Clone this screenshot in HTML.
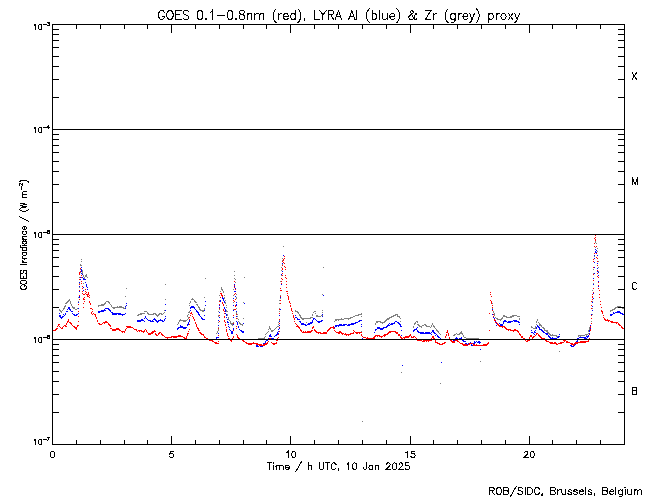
<!DOCTYPE html><html><head><meta charset="utf-8"><style>html,body{margin:0;padding:0;background:#fff;width:650px;height:500px;overflow:hidden}svg{display:block}text{font-family:"Liberation Sans",sans-serif}</style></head><body>
<svg width="650" height="500" viewBox="0 0 650 500" shape-rendering="crispEdges">
<path fill="#808080" d="M269 326h1v1h-1zM277 326h2v1h-2zM413 326h1v1h-1zM419 326h3v1h-3zM426 326h4v1h-4zM431 326h1v1h-1zM433 326h2v1h-2zM531 326h1v1h-1zM535 326h1v1h-1zM541 326h1v1h-1zM590 326h1v1h-1zM180 319h1v1h-1zM187 319h1v1h-1zM228 319h1v1h-1zM238 319h1v1h-1zM302 319h2v1h-2zM335 319h9v1h-9zM348 319h1v1h-1zM386 319h3v1h-3zM497 319h5v1h-5zM519 319h1v1h-1zM537 319h1v1h-1zM178 322h1v1h-1zM218 322h1v1h-1zM230 322h1v1h-1zM233 322h1v1h-1zM239 322h1v1h-1zM278 322h1v1h-1zM306 322h1v1h-1zM376 322h2v1h-2zM380 322h5v1h-5zM415 322h1v1h-1zM417 322h1v1h-1zM536 322h1v1h-1zM538 322h1v1h-1zM217 331h1v1h-1zM268 331h1v1h-1zM271 331h2v1h-2zM361 331h1v1h-1zM437 331h2v1h-2zM461 331h1v1h-1zM546 331h2v1h-2zM588 331h1v1h-1zM218 327h1v1h-1zM269 327h1v1h-1zM276 327h1v1h-1zM413 327h1v1h-1zM421 327h1v1h-1zM430 327h1v1h-1zM434 327h1v1h-1zM531 327h2v1h-2zM535 327h1v1h-1zM542 327h2v1h-2zM589 327h1v1h-1zM236 294h1v1h-1zM322 294h1v1h-1zM126 288h1v1h-1zM221 288h1v1h-1zM235 288h1v1h-1zM280 288h1v1h-1zM138 314h4v1h-4zM148 314h6v1h-6zM155 314h2v1h-2zM158 314h2v1h-2zM161 314h2v1h-2zM188 314h1v1h-1zM227 314h1v1h-1zM237 314h1v1h-1zM299 314h1v1h-1zM312 314h1v1h-1zM358 314h4v1h-4zM395 314h3v1h-3zM494 314h1v1h-1zM592 314h1v1h-1zM61 312h1v1h-1zM147 312h1v1h-1zM164 312h1v1h-1zM188 312h2v1h-2zM236 312h1v1h-1zM297 312h2v1h-2zM313 312h1v1h-1zM322 312h1v1h-1zM493 312h1v1h-1zM137 315h2v1h-2zM156 315h3v1h-3zM187 315h1v1h-1zM218 315h1v1h-1zM227 315h1v1h-1zM233 315h1v1h-1zM279 315h1v1h-1zM299 315h2v1h-2zM312 315h1v1h-1zM316 315h2v1h-2zM321 315h2v1h-2zM355 315h4v1h-4zM393 315h3v1h-3zM397 315h1v1h-1zM494 315h1v1h-1zM503 315h2v1h-2zM512 315h5v1h-5zM597 251h1v1h-1zM63 308h2v1h-2zM73 308h2v1h-2zM77 308h2v1h-2zM113 308h2v1h-2zM123 308h3v1h-3zM199 308h1v1h-1zM204 308h1v1h-1zM236 308h1v1h-1zM279 308h1v1h-1zM492 308h1v1h-1zM592 308h1v1h-1zM614 308h2v1h-2zM622 308h2v1h-2zM281 267h1v1h-1zM323 267h1v1h-1zM594 267h1v1h-1zM598 267h1v1h-1zM178 323h1v1h-1zM230 323h3v1h-3zM239 323h2v1h-2zM243 323h1v1h-1zM375 323h1v1h-1zM382 323h1v1h-1zM414 323h2v1h-2zM432 323h1v1h-1zM539 323h1v1h-1zM591 323h1v1h-1zM60 311h2v1h-2zM144 311h3v1h-3zM189 311h1v1h-1zM202 311h2v1h-2zM218 311h1v1h-1zM226 311h2v1h-2zM279 311h1v1h-1zM295 311h3v1h-3zM314 311h2v1h-2zM493 311h1v1h-1zM610 311h1v1h-1zM84 278h1v1h-1zM205 278h1v1h-1zM234 278h1v1h-1zM593 278h1v1h-1zM188 317h1v1h-1zM228 317h1v1h-1zM300 317h2v1h-2zM310 317h3v1h-3zM350 317h3v1h-3zM389 317h3v1h-3zM399 317h1v1h-1zM495 317h1v1h-1zM502 317h1v1h-1zM506 317h6v1h-6zM218 330h1v1h-1zM271 330h3v1h-3zM401 330h1v1h-1zM436 330h2v1h-2zM544 330h4v1h-4zM588 330h1v1h-1zM219 295h1v1h-1zM224 295h1v1h-1zM233 295h1v1h-1zM280 295h1v1h-1zM453 335h2v1h-2zM463 335h1v1h-1zM550 335h7v1h-7zM578 335h7v1h-7zM586 335h1v1h-1zM65 303h2v1h-2zM70 303h1v1h-1zM104 303h2v1h-2zM109 303h1v1h-1zM189 303h1v1h-1zM225 303h1v1h-1zM279 303h1v1h-1zM492 303h1v1h-1zM258 338h7v1h-7zM466 338h13v1h-13zM59 309h1v1h-1zM63 309h1v1h-1zM75 309h2v1h-2zM199 309h2v1h-2zM204 309h1v1h-1zM219 309h1v1h-1zM233 309h1v1h-1zM612 309h3v1h-3zM64 307h1v1h-1zM72 307h3v1h-3zM112 307h12v1h-12zM125 307h1v1h-1zM198 307h2v1h-2zM226 307h1v1h-1zM615 307h3v1h-3zM620 307h3v1h-3zM223 292h1v1h-1zM67 301h2v1h-2zM70 301h1v1h-1zM78 301h1v1h-1zM106 301h3v1h-3zM190 301h1v1h-1zM194 301h2v1h-2zM592 301h1v1h-1zM140 313h5v1h-5zM147 313h2v1h-2zM153 313h3v1h-3zM159 313h3v1h-3zM163 313h1v1h-1zM236 313h1v1h-1zM298 313h1v1h-1zM315 313h1v1h-1zM361 313h1v1h-1zM494 313h1v1h-1zM68 300h2v1h-2zM194 300h1v1h-1zM219 300h1v1h-1zM225 300h1v1h-1zM279 300h1v1h-1zM78 297h1v1h-1zM204 297h1v1h-1zM224 297h1v1h-1zM236 297h1v1h-1zM592 297h1v1h-1zM66 302h2v1h-2zM70 302h1v1h-1zM105 302h1v1h-1zM108 302h2v1h-2zM190 302h1v1h-1zM195 302h2v1h-2zM225 302h1v1h-1zM233 302h1v1h-1zM243 302h1v1h-1zM64 306h2v1h-2zM72 306h1v1h-1zM98 306h1v1h-1zM111 306h1v1h-1zM117 306h1v1h-1zM119 306h3v1h-3zM198 306h1v1h-1zM617 306h4v1h-4zM264 337h1v1h-1zM464 337h2v1h-2zM283 255h1v1h-1zM597 255h1v1h-1zM157 316h1v1h-1zM187 316h1v1h-1zM218 316h1v1h-1zM237 316h1v1h-1zM300 316h1v1h-1zM316 316h5v1h-5zM353 316h2v1h-2zM361 316h1v1h-1zM391 316h3v1h-3zM397 316h3v1h-3zM503 316h4v1h-4zM510 316h4v1h-4zM517 316h3v1h-3zM269 328h2v1h-2zM275 328h1v1h-1zM435 328h1v1h-1zM533 328h3v1h-3zM543 328h2v1h-2zM589 328h1v1h-1zM59 310h2v1h-2zM62 310h1v1h-1zM164 310h1v1h-1zM200 310h4v1h-4zM226 310h1v1h-1zM295 310h1v1h-1zM322 310h1v1h-1zM610 310h3v1h-3zM265 334h1v1h-1zM440 334h1v1h-1zM454 334h2v1h-2zM457 334h3v1h-3zM462 334h1v1h-1zM549 334h2v1h-2zM552 334h1v1h-1zM585 334h3v1h-3zM440 383h1v1h-1zM232 325h1v1h-1zM242 325h1v1h-1zM418 325h2v1h-2zM422 325h2v1h-2zM425 325h2v1h-2zM431 325h1v1h-1zM433 325h1v1h-1zM539 325h3v1h-3zM590 325h1v1h-1zM79 279h1v1h-1zM84 279h1v1h-1zM235 279h1v1h-1zM83 276h1v1h-1zM85 276h2v1h-2zM179 321h1v1h-1zM183 321h3v1h-3zM230 321h1v1h-1zM238 321h1v1h-1zM334 321h1v1h-1zM376 321h5v1h-5zM384 321h2v1h-2zM400 321h1v1h-1zM416 321h2v1h-2zM536 321h1v1h-1zM591 321h1v1h-1zM479 339h2v1h-2zM179 320h8v1h-8zM229 320h1v1h-1zM279 320h1v1h-1zM335 320h2v1h-2zM338 320h1v1h-1zM385 320h2v1h-2zM500 320h1v1h-1zM537 320h1v1h-1zM218 329h1v1h-1zM268 329h1v1h-1zM270 329h1v1h-1zM274 329h1v1h-1zM436 329h1v1h-1zM544 329h1v1h-1zM589 329h1v1h-1zM222 290h1v1h-1zM592 290h1v1h-1zM188 318h1v1h-1zM228 318h1v1h-1zM237 318h1v1h-1zM243 318h1v1h-1zM301 318h10v1h-10zM341 318h1v1h-1zM344 318h7v1h-7zM387 318h3v1h-3zM400 318h1v1h-1zM496 318h2v1h-2zM501 318h2v1h-2zM519 318h1v1h-1zM79 291h1v1h-1zM220 291h1v1h-1zM223 291h1v1h-1zM235 291h1v1h-1zM79 283h1v1h-1zM83 283h1v1h-1zM593 283h1v1h-1zM82 270h1v1h-1zM281 270h1v1h-1zM69 299h1v1h-1zM165 299h1v1h-1zM191 299h3v1h-3zM216 333h1v1h-1zM266 333h1v1h-1zM439 333h1v1h-1zM456 333h1v1h-1zM459 333h4v1h-4zM548 333h2v1h-2zM588 333h1v1h-1zM595 252h1v1h-1zM217 332h1v1h-1zM267 332h1v1h-1zM438 332h1v1h-1zM460 332h2v1h-2zM547 332h2v1h-2zM83 275h1v1h-1zM85 275h2v1h-2zM234 275h1v1h-1zM281 275h1v1h-1zM221 289h2v1h-2zM233 289h1v1h-1zM65 305h1v1h-1zM71 305h1v1h-1zM98 305h6v1h-6zM111 305h1v1h-1zM189 305h1v1h-1zM197 305h1v1h-1zM219 305h1v1h-1zM226 305h1v1h-1zM595 247h1v1h-1zM177 324h1v1h-1zM231 324h2v1h-2zM240 324h3v1h-3zM278 324h1v1h-1zM375 324h1v1h-1zM414 324h1v1h-1zM417 324h2v1h-2zM424 324h2v1h-2zM432 324h1v1h-1zM536 324h1v1h-1zM539 324h2v1h-2zM71 304h1v1h-1zM101 304h4v1h-4zM110 304h1v1h-1zM196 304h2v1h-2zM236 304h1v1h-1zM595 242h1v1h-1zM362 421h1v1h-1zM192 298h1v1h-1zM224 298h1v1h-1zM236 298h1v1h-1zM280 298h1v1h-1zM81 261h1v1h-1zM598 261h1v1h-1zM401 372h1v1h-1zM265 336h1v1h-1zM463 336h1v1h-1zM556 336h3v1h-3zM578 336h1v1h-1zM580 336h1v1h-1zM595 241h1v1h-1zM594 262h1v1h-1zM125 296h1v1h-1zM592 296h1v1h-1zM79 287h1v1h-1zM221 287h1v1h-1zM80 265h2v1h-2zM79 277h1v1h-1zM84 277h1v1h-1zM87 277h1v1h-1zM244 277h1v1h-1zM598 277h1v1h-1zM80 269h1v1h-1zM593 269h1v1h-1zM282 260h1v1h-1zM480 361h1v1h-1zM80 264h1v1h-1zM282 264h1v1h-1zM596 243h1v1h-1zM235 282h1v1h-1zM280 281h1v1h-1zM82 273h1v1h-1zM593 273h1v1h-1zM597 248h1v1h-1zM165 284h1v1h-1zM559 351h1v1h-1zM234 285h1v1h-1zM283 246h1v1h-1zM596 246h1v1h-1zM80 272h1v1h-1zM82 272h1v1h-1zM80 271h1v1h-1zM82 271h1v1h-1zM234 271h1v1h-1zM598 271h1v1h-1zM86 274h1v1h-1zM594 256h1v1h-1zM220 293h1v1h-1zM81 259h1v1h-1zM282 258h1v1h-1z"/>
<path fill="#0000ff" d="M141 319h2v1h-2zM147 319h1v1h-1zM153 319h3v1h-3zM160 319h1v1h-1zM164 319h1v1h-1zM202 319h3v1h-3zM227 319h1v1h-1zM297 319h3v1h-3zM313 319h1v1h-1zM315 319h1v1h-1zM494 319h1v1h-1zM269 335h2v1h-2zM275 335h2v1h-2zM401 335h1v1h-1zM435 335h1v1h-1zM437 335h1v1h-1zM548 335h1v1h-1zM588 335h1v1h-1zM266 340h2v1h-2zM453 340h2v1h-2zM462 340h2v1h-2zM577 340h1v1h-1zM187 324h2v1h-2zM228 324h1v1h-1zM233 324h1v1h-1zM237 324h1v1h-1zM301 324h5v1h-5zM307 324h3v1h-3zM339 324h3v1h-3zM343 324h4v1h-4zM348 324h6v1h-6zM361 324h1v1h-1zM388 324h1v1h-1zM390 324h3v1h-3zM399 324h2v1h-2zM497 324h2v1h-2zM500 324h3v1h-3zM519 324h1v1h-1zM596 250h1v1h-1zM178 327h9v1h-9zM229 327h1v1h-1zM238 327h1v1h-1zM334 327h1v1h-1zM377 327h3v1h-3zM383 327h4v1h-4zM417 327h1v1h-1zM536 327h1v1h-1zM538 327h2v1h-2zM590 327h1v1h-1zM269 336h3v1h-3zM274 336h1v1h-1zM437 336h2v1h-2zM548 336h2v1h-2zM558 336h2v1h-2zM586 336h3v1h-3zM216 337h3v1h-3zM438 337h2v1h-2zM456 337h1v1h-1zM461 337h1v1h-1zM549 337h2v1h-2zM552 337h1v1h-1zM557 337h2v1h-2zM579 337h7v1h-7zM587 337h1v1h-1zM66 311h2v1h-2zM71 311h2v1h-2zM98 311h6v1h-6zM110 311h1v1h-1zM196 311h2v1h-2zM225 311h1v1h-1zM236 311h1v1h-1zM617 311h3v1h-3zM70 310h1v1h-1zM101 310h5v1h-5zM109 310h2v1h-2zM165 310h1v1h-1zM190 310h1v1h-1zM196 310h1v1h-1zM204 310h1v1h-1zM225 310h1v1h-1zM233 310h1v1h-1zM592 310h1v1h-1zM79 297h1v1h-1zM220 297h1v1h-1zM222 297h1v1h-1zM280 297h1v1h-1zM263 343h2v1h-2zM465 343h2v1h-2zM468 343h4v1h-4zM473 343h2v1h-2zM479 343h1v1h-1zM82 274h1v1h-1zM281 274h1v1h-1zM59 313h1v1h-1zM65 313h1v1h-1zM72 313h1v1h-1zM78 313h1v1h-1zM112 313h9v1h-9zM125 313h1v1h-1zM190 313h1v1h-1zM198 313h1v1h-1zM225 313h1v1h-1zM613 313h2v1h-2zM620 313h3v1h-3zM177 328h2v1h-2zM183 328h3v1h-3zM218 328h1v1h-1zM233 328h1v1h-1zM279 328h1v1h-1zM377 328h7v1h-7zM416 328h1v1h-1zM536 328h1v1h-1zM539 328h1v1h-1zM590 328h1v1h-1zM216 338h1v1h-1zM268 338h2v1h-2zM271 338h3v1h-3zM362 338h1v1h-1zM440 338h1v1h-1zM455 338h3v1h-3zM459 338h3v1h-3zM550 338h7v1h-7zM577 338h2v1h-2zM584 338h3v1h-3zM157 322h1v1h-1zM188 322h1v1h-1zM227 322h2v1h-2zM237 322h1v1h-1zM300 322h1v1h-1zM310 322h3v1h-3zM318 322h2v1h-2zM355 322h3v1h-3zM394 322h1v1h-1zM397 322h2v1h-2zM503 322h1v1h-1zM507 322h4v1h-4zM518 322h2v1h-2zM480 349h1v1h-1zM63 314h1v1h-1zM65 314h1v1h-1zM73 314h2v1h-2zM76 314h2v1h-2zM112 314h5v1h-5zM118 314h7v1h-7zM198 314h2v1h-2zM226 314h1v1h-1zM322 314h1v1h-1zM492 314h1v1h-1zM591 314h1v1h-1zM610 314h3v1h-3zM622 314h2v1h-2zM137 320h7v1h-7zM148 320h3v1h-3zM152 320h1v1h-1zM155 320h2v1h-2zM158 320h5v1h-5zM164 320h1v1h-1zM189 320h1v1h-1zM218 320h1v1h-1zM312 320h1v1h-1zM316 320h1v1h-1zM321 320h2v1h-2zM359 320h3v1h-3zM494 320h2v1h-2zM504 320h2v1h-2zM513 320h4v1h-4zM218 333h1v1h-1zM231 333h2v1h-2zM277 333h2v1h-2zM420 333h11v1h-11zM434 333h2v1h-2zM533 333h1v1h-1zM545 333h3v1h-3zM589 333h1v1h-1zM86 284h1v1h-1zM234 284h1v1h-1zM281 284h1v1h-1zM593 284h1v1h-1zM267 339h1v1h-1zM272 339h1v1h-1zM452 339h1v1h-1zM455 339h1v1h-1zM457 339h2v1h-2zM460 339h1v1h-1zM462 339h1v1h-1zM59 315h2v1h-2zM64 315h1v1h-1zM74 315h3v1h-3zM122 315h1v1h-1zM199 315h1v1h-1zM204 315h1v1h-1zM226 315h1v1h-1zM279 315h1v1h-1zM295 315h1v1h-1zM610 315h2v1h-2zM180 325h1v1h-1zM187 325h1v1h-1zM218 325h1v1h-1zM279 325h1v1h-1zM305 325h2v1h-2zM335 325h10v1h-10zM347 325h3v1h-3zM387 325h3v1h-3zM400 325h1v1h-1zM496 325h1v1h-1zM498 325h1v1h-1zM500 325h3v1h-3zM537 325h1v1h-1zM590 325h1v1h-1zM270 334h1v1h-1zM276 334h2v1h-2zM431 334h1v1h-1zM436 334h1v1h-1zM534 334h1v1h-1zM546 334h2v1h-2zM559 334h1v1h-1zM180 326h3v1h-3zM228 326h1v1h-1zM238 326h1v1h-1zM335 326h2v1h-2zM338 326h1v1h-1zM361 326h1v1h-1zM386 326h2v1h-2zM400 326h2v1h-2zM537 326h2v1h-2zM590 326h1v1h-1zM441 362h1v1h-1zM177 329h1v1h-1zM229 329h1v1h-1zM233 329h1v1h-1zM239 329h1v1h-1zM278 329h1v1h-1zM375 329h2v1h-2zM380 329h3v1h-3zM414 329h3v1h-3zM539 329h3v1h-3zM256 346h3v1h-3zM260 346h3v1h-3zM571 346h3v1h-3zM283 255h1v1h-1zM594 255h1v1h-1zM597 255h1v1h-1zM67 309h1v1h-1zM69 309h2v1h-2zM104 309h1v1h-1zM108 309h2v1h-2zM195 309h1v1h-1zM225 309h1v1h-1zM280 309h1v1h-1zM492 309h1v1h-1zM83 290h1v1h-1zM280 290h1v1h-1zM256 345h2v1h-2zM259 345h1v1h-1zM261 345h3v1h-3zM471 345h2v1h-2zM570 345h2v1h-2zM573 345h2v1h-2zM60 317h3v1h-3zM145 317h1v1h-1zM189 317h1v1h-1zM201 317h1v1h-1zM219 317h1v1h-1zM226 317h1v1h-1zM233 317h1v1h-1zM295 317h2v1h-2zM493 317h1v1h-1zM265 341h1v1h-1zM452 341h1v1h-1zM463 341h3v1h-3zM474 341h1v1h-1zM476 341h1v1h-1zM478 341h2v1h-2zM576 341h2v1h-2zM188 323h1v1h-1zM237 323h1v1h-1zM243 323h1v1h-1zM301 323h3v1h-3zM308 323h4v1h-4zM351 323h5v1h-5zM389 323h1v1h-1zM391 323h4v1h-4zM398 323h2v1h-2zM496 323h1v1h-1zM499 323h1v1h-1zM503 323h1v1h-1zM591 323h1v1h-1zM137 321h4v1h-4zM144 321h1v1h-1zM150 321h4v1h-4zM156 321h3v1h-3zM162 321h2v1h-2zM189 321h1v1h-1zM227 321h1v1h-1zM236 321h1v1h-1zM279 321h1v1h-1zM299 321h2v1h-2zM312 321h1v1h-1zM317 321h5v1h-5zM358 321h2v1h-2zM395 321h2v1h-2zM495 321h1v1h-1zM503 321h4v1h-4zM508 321h5v1h-5zM514 321h5v1h-5zM230 330h1v1h-1zM240 330h2v1h-2zM375 330h1v1h-1zM401 330h1v1h-1zM413 330h2v1h-2zM417 330h1v1h-1zM432 330h2v1h-2zM531 330h1v1h-1zM535 330h1v1h-1zM541 330h2v1h-2zM589 330h1v1h-1zM402 365h1v1h-1zM231 332h2v1h-2zM242 332h2v1h-2zM277 332h1v1h-1zM374 332h1v1h-1zM418 332h6v1h-6zM425 332h5v1h-5zM431 332h1v1h-1zM433 332h2v1h-2zM531 332h2v1h-2zM534 332h2v1h-2zM543 332h2v1h-2zM61 318h1v1h-1zM144 318h1v1h-1zM146 318h1v1h-1zM154 318h1v1h-1zM165 318h1v1h-1zM201 318h2v1h-2zM297 318h1v1h-1zM313 318h2v1h-2zM494 318h1v1h-1zM591 318h1v1h-1zM98 312h2v1h-2zM111 312h2v1h-2zM197 312h2v1h-2zM219 312h1v1h-1zM613 312h1v1h-1zM615 312h6v1h-6zM231 331h2v1h-2zM241 331h3v1h-3zM278 331h1v1h-1zM413 331h1v1h-1zM417 331h2v1h-2zM432 331h2v1h-2zM534 331h1v1h-1zM542 331h2v1h-2zM589 331h1v1h-1zM79 286h1v1h-1zM86 286h1v1h-1zM234 286h1v1h-1zM598 286h1v1h-1zM165 304h1v1h-1zM236 304h1v1h-1zM68 307h2v1h-2zM190 307h5v1h-5zM219 307h1v1h-1zM224 307h1v1h-1zM126 305h1v1h-1zM205 305h1v1h-1zM219 305h1v1h-1zM233 305h1v1h-1zM236 305h1v1h-1zM595 252h2v1h-2zM265 342h1v1h-1zM470 342h1v1h-1zM474 342h2v1h-2zM477 342h4v1h-4zM575 342h2v1h-2zM126 303h1v1h-1zM244 303h1v1h-1zM280 303h1v1h-1zM222 298h2v1h-2zM233 298h1v1h-1zM593 298h1v1h-1zM68 308h2v1h-2zM78 308h1v1h-1zM105 308h4v1h-4zM125 308h1v1h-1zM190 308h1v1h-1zM194 308h1v1h-1zM224 308h1v1h-1zM86 285h1v1h-1zM81 273h1v1h-1zM594 273h1v1h-1zM80 279h1v1h-1zM83 279h3v1h-3zM125 306h1v1h-1zM191 306h3v1h-3zM592 306h1v1h-1zM598 275h1v1h-1zM595 251h1v1h-1zM283 259h1v1h-1zM59 316h2v1h-2zM62 316h2v1h-2zM145 316h1v1h-1zM165 316h1v1h-1zM200 316h1v1h-1zM236 316h1v1h-1zM322 316h1v1h-1zM221 293h1v1h-1zM593 293h1v1h-1zM81 271h1v1h-1zM282 271h1v1h-1zM597 271h1v1h-1zM467 344h2v1h-2zM471 344h1v1h-1zM574 344h2v1h-2zM78 302h1v1h-1zM224 302h1v1h-1zM236 302h1v1h-1zM592 302h1v1h-1zM594 258h1v1h-1zM597 258h1v1h-1zM81 267h1v1h-1zM594 267h1v1h-1zM220 300h1v1h-1zM223 300h1v1h-1zM594 262h1v1h-1zM83 278h1v1h-1zM281 278h1v1h-1zM593 278h1v1h-1zM282 261h1v1h-1zM83 287h1v1h-1zM87 287h1v1h-1zM205 301h1v1h-1zM220 301h1v1h-1zM224 301h1v1h-1zM235 288h1v1h-1zM593 288h1v1h-1zM597 268h1v1h-1zM282 265h1v1h-1zM282 263h1v1h-1zM597 263h1v1h-1zM79 296h1v1h-1zM222 296h1v1h-1zM235 296h1v1h-1zM79 291h1v1h-1zM234 291h2v1h-2zM223 299h1v1h-1zM235 299h1v1h-1zM79 282h1v1h-1zM85 282h1v1h-1zM80 277h1v1h-1zM82 277h1v1h-1zM595 249h1v1h-1zM81 270h1v1h-1zM81 269h1v1h-1zM282 269h1v1h-1zM221 295h1v1h-1zM323 295h1v1h-1zM598 272h1v1h-1zM598 281h1v1h-1zM221 294h1v1h-1zM87 289h1v1h-1z"/>
<path fill="#ff0000" d="M122 332h1v1h-1zM124 332h1v1h-1zM143 332h1v1h-1zM147 332h1v1h-1zM151 332h3v1h-3zM159 332h2v1h-2zM199 332h2v1h-2zM302 332h9v1h-9zM316 332h5v1h-5zM323 332h4v1h-4zM336 332h6v1h-6zM353 332h1v1h-1zM355 332h7v1h-7zM388 332h3v1h-3zM395 332h3v1h-3zM446 332h2v1h-2zM518 332h1v1h-1zM52 331h1v1h-1zM121 331h4v1h-4zM137 331h1v1h-1zM139 331h1v1h-1zM141 331h4v1h-4zM146 331h1v1h-1zM152 331h4v1h-4zM188 331h1v1h-1zM226 331h1v1h-1zM279 331h1v1h-1zM301 331h1v1h-1zM303 331h1v1h-1zM305 331h1v1h-1zM307 331h5v1h-5zM315 331h2v1h-2zM327 331h1v1h-1zM335 331h1v1h-1zM339 331h2v1h-2zM354 331h1v1h-1zM389 331h7v1h-7zM447 331h1v1h-1zM513 331h1v1h-1zM517 331h2v1h-2zM52 330h4v1h-4zM112 330h4v1h-4zM119 330h2v1h-2zM125 330h1v1h-1zM136 330h1v1h-1zM138 330h4v1h-4zM144 330h1v1h-1zM146 330h1v1h-1zM154 330h1v1h-1zM198 330h2v1h-2zM226 330h1v1h-1zM233 330h1v1h-1zM300 330h2v1h-2zM311 330h2v1h-2zM314 330h2v1h-2zM327 330h2v1h-2zM334 330h1v1h-1zM353 330h1v1h-1zM447 330h1v1h-1zM489 330h1v1h-1zM508 330h1v1h-1zM510 330h8v1h-8zM590 330h1v1h-1zM209 340h4v1h-4zM230 340h2v1h-2zM242 340h2v1h-2zM276 340h2v1h-2zM417 340h5v1h-5zM423 340h9v1h-9zM435 340h1v1h-1zM450 340h2v1h-2zM455 340h3v1h-3zM525 340h1v1h-1zM527 340h3v1h-3zM545 340h2v1h-2zM563 340h3v1h-3zM588 340h1v1h-1zM215 343h4v1h-4zM246 343h12v1h-12zM265 343h3v1h-3zM272 343h5v1h-5zM437 343h3v1h-3zM442 343h3v1h-3zM460 343h3v1h-3zM469 343h4v1h-4zM487 343h2v1h-2zM550 343h7v1h-7zM558 343h4v1h-4zM570 343h3v1h-3zM574 343h4v1h-4zM148 333h5v1h-5zM155 333h1v1h-1zM158 333h2v1h-2zM161 333h1v1h-1zM187 333h2v1h-2zM200 333h2v1h-2zM227 333h1v1h-1zM318 333h1v1h-1zM320 333h7v1h-7zM338 333h2v1h-2zM341 333h3v1h-3zM345 333h1v1h-1zM350 333h4v1h-4zM356 333h2v1h-2zM359 333h1v1h-1zM387 333h2v1h-2zM396 333h2v1h-2zM448 333h1v1h-1zM519 333h1v1h-1zM536 333h2v1h-2zM85 289h1v1h-1zM235 289h1v1h-1zM60 327h1v1h-1zM62 327h1v1h-1zM74 327h3v1h-3zM127 327h6v1h-6zM197 327h1v1h-1zM226 327h1v1h-1zM279 327h1v1h-1zM298 327h2v1h-2zM312 327h2v1h-2zM330 327h4v1h-4zM502 327h1v1h-1zM504 327h2v1h-2zM590 327h1v1h-1zM621 327h2v1h-2zM66 323h1v1h-1zM70 323h2v1h-2zM98 323h2v1h-2zM102 323h1v1h-1zM104 323h1v1h-1zM108 323h1v1h-1zM195 323h1v1h-1zM233 323h1v1h-1zM279 323h1v1h-1zM295 323h1v1h-1zM497 323h1v1h-1zM591 323h1v1h-1zM616 323h1v1h-1zM618 323h1v1h-1zM82 288h1v1h-1zM280 288h1v1h-1zM593 288h1v1h-1zM598 288h1v1h-1zM57 326h1v1h-1zM59 326h1v1h-1zM63 326h1v1h-1zM65 326h2v1h-2zM73 326h2v1h-2zM77 326h1v1h-1zM110 326h1v1h-1zM126 326h5v1h-5zM196 326h1v1h-1zM236 326h1v1h-1zM296 326h3v1h-3zM313 326h1v1h-1zM333 326h1v1h-1zM499 326h6v1h-6zM590 326h1v1h-1zM621 326h1v1h-1zM58 325h1v1h-1zM64 325h2v1h-2zM72 325h1v1h-1zM77 325h2v1h-2zM109 325h2v1h-2zM196 325h1v1h-1zM225 325h1v1h-1zM297 325h1v1h-1zM498 325h2v1h-2zM619 325h2v1h-2zM214 342h3v1h-3zM245 342h2v1h-2zM253 342h1v1h-1zM267 342h1v1h-1zM271 342h1v1h-1zM276 342h1v1h-1zM435 342h3v1h-3zM444 342h2v1h-2zM452 342h3v1h-3zM459 342h1v1h-1zM488 342h1v1h-1zM549 342h4v1h-4zM554 342h2v1h-2zM560 342h4v1h-4zM566 342h4v1h-4zM575 342h11v1h-11zM164 336h1v1h-1zM171 336h12v1h-12zM186 336h1v1h-1zM204 336h1v1h-1zM228 336h1v1h-1zM233 336h1v1h-1zM237 336h1v1h-1zM362 336h1v1h-1zM374 336h2v1h-2zM377 336h1v1h-1zM379 336h4v1h-4zM384 336h1v1h-1zM400 336h1v1h-1zM405 336h5v1h-5zM411 336h1v1h-1zM413 336h2v1h-2zM432 336h2v1h-2zM445 336h1v1h-1zM521 336h2v1h-2zM530 336h2v1h-2zM533 336h2v1h-2zM539 336h2v1h-2zM67 322h1v1h-1zM69 322h2v1h-2zM103 322h5v1h-5zM195 322h1v1h-1zM225 322h1v1h-1zM495 322h2v1h-2zM611 322h7v1h-7zM156 335h2v1h-2zM162 335h2v1h-2zM178 335h3v1h-3zM187 335h1v1h-1zM203 335h1v1h-1zM218 335h1v1h-1zM227 335h1v1h-1zM237 335h1v1h-1zM346 335h1v1h-1zM348 335h1v1h-1zM361 335h1v1h-1zM375 335h5v1h-5zM383 335h3v1h-3zM398 335h2v1h-2zM409 335h2v1h-2zM446 335h1v1h-1zM448 335h1v1h-1zM520 335h1v1h-1zM530 335h2v1h-2zM535 335h1v1h-1zM538 335h2v1h-2zM165 337h7v1h-7zM173 337h4v1h-4zM183 337h2v1h-2zM186 337h1v1h-1zM204 337h2v1h-2zM233 337h1v1h-1zM237 337h2v1h-2zM278 337h1v1h-1zM363 337h3v1h-3zM367 337h1v1h-1zM373 337h2v1h-2zM381 337h1v1h-1zM400 337h2v1h-2zM403 337h6v1h-6zM411 337h3v1h-3zM415 337h1v1h-1zM432 337h2v1h-2zM445 337h1v1h-1zM449 337h1v1h-1zM521 337h2v1h-2zM529 337h1v1h-1zM532 337h2v1h-2zM540 337h2v1h-2zM248 344h4v1h-4zM256 344h6v1h-6zM263 344h4v1h-4zM273 344h2v1h-2zM439 344h4v1h-4zM462 344h5v1h-5zM468 344h2v1h-2zM473 344h2v1h-2zM476 344h1v1h-1zM483 344h5v1h-5zM556 344h2v1h-2zM571 344h4v1h-4zM167 338h1v1h-1zM184 338h3v1h-3zM206 338h2v1h-2zM228 338h2v1h-2zM232 338h1v1h-1zM238 338h2v1h-2zM269 338h2v1h-2zM277 338h1v1h-1zM366 338h9v1h-9zM401 338h2v1h-2zM404 338h1v1h-1zM416 338h1v1h-1zM431 338h1v1h-1zM433 338h2v1h-2zM449 338h1v1h-1zM523 338h2v1h-2zM529 338h1v1h-1zM532 338h1v1h-1zM541 338h4v1h-4zM589 338h1v1h-1zM223 305h1v1h-1zM235 305h1v1h-1zM290 305h1v1h-1zM492 305h1v1h-1zM591 305h1v1h-1zM55 329h2v1h-2zM76 329h1v1h-1zM112 329h8v1h-8zM125 329h1v1h-1zM134 329h3v1h-3zM145 329h1v1h-1zM189 329h1v1h-1zM198 329h1v1h-1zM226 329h1v1h-1zM300 329h1v1h-1zM314 329h1v1h-1zM328 329h2v1h-2zM506 329h5v1h-5zM514 329h2v1h-2zM590 329h1v1h-1zM259 345h6v1h-6zM463 345h5v1h-5zM473 345h14v1h-14zM573 345h1v1h-1zM207 339h4v1h-4zM229 339h2v1h-2zM232 339h1v1h-1zM240 339h3v1h-3zM268 339h3v1h-3zM277 339h1v1h-1zM416 339h2v1h-2zM431 339h1v1h-1zM434 339h1v1h-1zM450 339h1v1h-1zM524 339h2v1h-2zM543 339h3v1h-3zM589 339h1v1h-1zM78 304h1v1h-1zM90 304h1v1h-1zM219 304h1v1h-1zM223 304h1v1h-1zM600 304h1v1h-1zM56 328h2v1h-2zM61 328h2v1h-2zM75 328h2v1h-2zM110 328h2v1h-2zM116 328h3v1h-3zM126 328h1v1h-1zM133 328h1v1h-1zM197 328h2v1h-2zM218 328h1v1h-1zM236 328h1v1h-1zM299 328h1v1h-1zM312 328h1v1h-1zM329 328h2v1h-2zM333 328h2v1h-2zM505 328h2v1h-2zM622 328h2v1h-2zM58 324h2v1h-2zM66 324h1v1h-1zM71 324h1v1h-1zM99 324h3v1h-3zM108 324h2v1h-2zM189 324h1v1h-1zM196 324h1v1h-1zM225 324h1v1h-1zM296 324h1v1h-1zM497 324h2v1h-2zM618 324h2v1h-2zM148 334h3v1h-3zM155 334h2v1h-2zM158 334h1v1h-1zM161 334h2v1h-2zM187 334h1v1h-1zM201 334h3v1h-3zM227 334h1v1h-1zM236 334h1v1h-1zM278 334h1v1h-1zM342 334h1v1h-1zM344 334h7v1h-7zM361 334h1v1h-1zM384 334h4v1h-4zM398 334h2v1h-2zM410 334h1v1h-1zM446 334h1v1h-1zM448 334h1v1h-1zM519 334h2v1h-2zM536 334h1v1h-1zM538 334h1v1h-1zM589 334h1v1h-1zM285 267h1v1h-1zM593 267h1v1h-1zM92 314h1v1h-1zM94 314h2v1h-2zM192 314h1v1h-1zM236 314h1v1h-1zM493 314h1v1h-1zM79 295h1v1h-1zM87 295h1v1h-1zM89 295h1v1h-1zM221 295h2v1h-2zM287 295h1v1h-1zM84 301h1v1h-1zM89 301h1v1h-1zM219 301h1v1h-1zM234 301h1v1h-1zM289 301h1v1h-1zM491 301h1v1h-1zM591 301h1v1h-1zM600 301h1v1h-1zM223 310h1v1h-1zM291 310h1v1h-1zM492 310h1v1h-1zM601 310h1v1h-1zM79 284h1v1h-1zM286 284h1v1h-1zM92 309h1v1h-1zM223 309h1v1h-1zM234 309h2v1h-2zM279 309h1v1h-1zM291 309h1v1h-1zM82 293h1v1h-1zM85 293h1v1h-1zM88 293h1v1h-1zM220 293h2v1h-2zM235 293h1v1h-1zM287 293h1v1h-1zM95 315h1v1h-1zM190 315h1v1h-1zM219 315h1v1h-1zM233 315h1v1h-1zM293 315h1v1h-1zM591 315h1v1h-1zM603 315h1v1h-1zM91 313h1v1h-1zM93 313h1v1h-1zM190 313h2v1h-2zM224 313h1v1h-1zM279 313h1v1h-1zM292 313h1v1h-1zM489 313h1v1h-1zM602 313h1v1h-1zM90 308h2v1h-2zM219 308h1v1h-1zM291 308h1v1h-1zM591 308h1v1h-1zM78 311h1v1h-1zM92 311h1v1h-1zM224 311h1v1h-1zM292 311h1v1h-1zM601 311h2v1h-2zM79 279h1v1h-1zM282 279h1v1h-1zM212 341h2v1h-2zM218 341h1v1h-1zM231 341h1v1h-1zM243 341h2v1h-2zM268 341h1v1h-1zM422 341h3v1h-3zM426 341h1v1h-1zM428 341h1v1h-1zM435 341h1v1h-1zM451 341h4v1h-4zM457 341h2v1h-2zM526 341h2v1h-2zM546 341h3v1h-3zM564 341h1v1h-1zM566 341h2v1h-2zM580 341h9v1h-9zM87 296h2v1h-2zM222 296h1v1h-1zM280 296h1v1h-1zM288 296h1v1h-1zM491 296h1v1h-1zM592 296h1v1h-1zM284 266h1v1h-1zM91 312h1v1h-1zM191 312h1v1h-1zM602 312h1v1h-1zM79 274h1v1h-1zM593 274h1v1h-1zM594 253h1v1h-1zM596 253h1v1h-1zM67 321h2v1h-2zM78 321h1v1h-1zM97 321h1v1h-1zM105 321h2v1h-2zM219 321h1v1h-1zM224 321h1v1h-1zM294 321h1v1h-1zM608 321h1v1h-1zM610 321h3v1h-3zM234 287h1v1h-1zM286 287h1v1h-1zM83 303h1v1h-1zM90 303h1v1h-1zM222 303h1v1h-1zM280 303h1v1h-1zM290 303h1v1h-1zM491 303h1v1h-1zM68 319h1v1h-1zM189 319h1v1h-1zM194 319h1v1h-1zM279 319h1v1h-1zM294 319h1v1h-1zM494 319h1v1h-1zM604 319h2v1h-2zM607 319h1v1h-1zM233 300h1v1h-1zM280 300h1v1h-1zM490 300h1v1h-1zM284 256h1v1h-1zM68 320h1v1h-1zM97 320h1v1h-1zM194 320h1v1h-1zM224 320h1v1h-1zM494 320h2v1h-2zM605 320h5v1h-5zM96 317h1v1h-1zM189 317h1v1h-1zM193 317h1v1h-1zM224 317h1v1h-1zM293 317h1v1h-1zM603 317h1v1h-1zM96 318h1v1h-1zM193 318h1v1h-1zM236 318h1v1h-1zM294 318h1v1h-1zM591 318h1v1h-1zM604 318h1v1h-1zM89 302h1v1h-1zM222 302h1v1h-1zM289 302h1v1h-1zM491 302h1v1h-1zM281 278h1v1h-1zM286 278h1v1h-1zM81 277h1v1h-1zM285 277h1v1h-1zM598 277h1v1h-1zM283 259h1v1h-1zM593 259h1v1h-1zM82 291h1v1h-1zM85 291h1v1h-1zM286 291h2v1h-2zM83 294h2v1h-2zM86 294h3v1h-3zM221 294h1v1h-1zM234 294h1v1h-1zM490 294h1v1h-1zM592 294h1v1h-1zM599 294h1v1h-1zM78 316h1v1h-1zM95 316h1v1h-1zM192 316h1v1h-1zM224 316h1v1h-1zM293 316h1v1h-1zM493 316h1v1h-1zM595 237h1v1h-1zM81 281h1v1h-1zM234 281h1v1h-1zM281 281h1v1h-1zM286 281h1v1h-1zM81 283h1v1h-1zM281 283h1v1h-1zM81 275h1v1h-1zM282 275h1v1h-1zM285 275h1v1h-1zM282 261h1v1h-1zM593 261h1v1h-1zM597 261h1v1h-1zM79 273h1v1h-1zM282 273h1v1h-1zM597 273h1v1h-1zM79 299h1v1h-1zM83 299h2v1h-2zM235 299h1v1h-1zM288 299h1v1h-1zM592 299h1v1h-1zM283 262h1v1h-1zM84 297h1v1h-1zM89 297h1v1h-1zM220 297h1v1h-1zM288 297h1v1h-1zM592 297h1v1h-1zM599 297h1v1h-1zM593 280h1v1h-1zM235 306h1v1h-1zM290 306h1v1h-1zM282 265h1v1h-1zM597 265h1v1h-1zM594 243h1v1h-1zM83 298h1v1h-1zM288 298h1v1h-1zM83 307h1v1h-1zM492 307h1v1h-1zM601 307h1v1h-1zM79 290h1v1h-1zM280 290h2v1h-2zM599 290h1v1h-1zM596 257h1v1h-1zM594 238h1v1h-1zM284 258h1v1h-1zM597 258h1v1h-1zM282 269h1v1h-1zM285 269h1v1h-1zM79 272h1v1h-1zM82 286h1v1h-1zM234 285h1v1h-1zM598 285h1v1h-1zM594 246h1v1h-1zM596 246h1v1h-1zM284 263h1v1h-1zM86 292h1v1h-1zM88 292h1v1h-1zM490 292h1v1h-1zM593 292h1v1h-1zM598 282h1v1h-1zM595 240h1v1h-1zM595 235h1v1h-1zM595 239h1v1h-1zM597 276h1v1h-1zM80 268h1v1h-1zM282 268h1v1h-1zM595 234h1v1h-1zM283 260h1v1h-1zM597 270h1v1h-1zM80 271h1v1h-1z"/>
<path fill="#000" d="M52 24h573v1h-573zM52 444h573v1h-573zM52 24h1v421h-1zM624 24h1v421h-1zM52 129h573v1h-573zM52 234h573v1h-573zM52 339h573v1h-573zM52 97h7v1h-7zM618 97h7v1h-7zM52 79h7v1h-7zM618 79h7v1h-7zM52 66h7v1h-7zM618 66h7v1h-7zM52 56h7v1h-7zM618 56h7v1h-7zM52 47h7v1h-7zM618 47h7v1h-7zM52 40h7v1h-7zM618 40h7v1h-7zM52 34h7v1h-7zM618 34h7v1h-7zM52 29h7v1h-7zM618 29h7v1h-7zM52 202h7v1h-7zM618 202h7v1h-7zM52 184h7v1h-7zM618 184h7v1h-7zM52 171h7v1h-7zM618 171h7v1h-7zM52 161h7v1h-7zM618 161h7v1h-7zM52 152h7v1h-7zM618 152h7v1h-7zM52 145h7v1h-7zM618 145h7v1h-7zM52 139h7v1h-7zM618 139h7v1h-7zM52 134h7v1h-7zM618 134h7v1h-7zM52 307h7v1h-7zM618 307h7v1h-7zM52 289h7v1h-7zM618 289h7v1h-7zM52 276h7v1h-7zM618 276h7v1h-7zM52 266h7v1h-7zM618 266h7v1h-7zM52 257h7v1h-7zM618 257h7v1h-7zM52 250h7v1h-7zM618 250h7v1h-7zM52 244h7v1h-7zM618 244h7v1h-7zM52 239h7v1h-7zM618 239h7v1h-7zM52 412h7v1h-7zM618 412h7v1h-7zM52 394h7v1h-7zM618 394h7v1h-7zM52 381h7v1h-7zM618 381h7v1h-7zM52 371h7v1h-7zM618 371h7v1h-7zM52 362h7v1h-7zM618 362h7v1h-7zM52 355h7v1h-7zM618 355h7v1h-7zM52 349h7v1h-7zM618 349h7v1h-7zM52 344h7v1h-7zM618 344h7v1h-7zM76 24h1v5h-1zM76 440h1v5h-1zM100 24h1v5h-1zM100 440h1v5h-1zM124 24h1v5h-1zM124 440h1v5h-1zM147 24h1v5h-1zM147 440h1v5h-1zM171 24h1v9h-1zM171 436h1v9h-1zM195 24h1v5h-1zM195 440h1v5h-1zM219 24h1v5h-1zM219 440h1v5h-1zM243 24h1v5h-1zM243 440h1v5h-1zM266 24h1v5h-1zM266 440h1v5h-1zM290 24h1v9h-1zM290 436h1v9h-1zM314 24h1v5h-1zM314 440h1v5h-1zM338 24h1v5h-1zM338 440h1v5h-1zM362 24h1v5h-1zM362 440h1v5h-1zM386 24h1v5h-1zM386 440h1v5h-1zM410 24h1v9h-1zM410 436h1v9h-1zM433 24h1v5h-1zM433 440h1v5h-1zM457 24h1v5h-1zM457 440h1v5h-1zM481 24h1v5h-1zM481 440h1v5h-1zM505 24h1v5h-1zM505 440h1v5h-1zM529 24h1v9h-1zM529 436h1v9h-1zM552 24h1v5h-1zM552 440h1v5h-1zM576 24h1v5h-1zM576 440h1v5h-1zM600 24h1v5h-1zM600 440h1v5h-1z"/>
<path fill="none" stroke="#000" stroke-width="1" stroke-linecap="square" d="M164.43 12.64 L164.04 11.79 L163.24 10.93 L162.45 10.50 L160.87 10.50 L160.08 10.93 L159.29 11.79 L158.90 12.64 L158.50 13.93 L158.50 16.07 L158.90 17.36 L159.29 18.21 L160.08 19.07 L160.87 19.50 L162.45 19.50 L163.24 19.07 L164.04 18.21 L164.43 17.36 L164.43 16.07M162.45 16.07 L164.43 16.07M169.18 10.50 L168.38 10.93 L167.59 11.79 L167.20 12.64 L166.80 13.93 L166.80 16.07 L167.20 17.36 L167.59 18.21 L168.38 19.07 L169.18 19.50 L170.76 19.50 L171.55 19.07 L172.34 18.21 L172.73 17.36 L173.13 16.07 L173.13 13.93 L172.73 12.64 L172.34 11.79 L171.55 10.93 L170.76 10.50 L169.18 10.50M175.90 10.50 L175.90 19.50M175.90 10.50 L181.04 10.50M175.90 14.79 L179.06 14.79M175.90 19.50 L181.04 19.50M188.55 11.79 L187.76 10.93 L186.57 10.50 L184.99 10.50 L183.81 10.93 L183.01 11.79 L183.01 12.64 L183.41 13.50 L183.81 13.93 L184.60 14.36 L186.97 15.21 L187.76 15.64 L188.15 16.07 L188.55 16.93 L188.55 18.21 L187.76 19.07 L186.57 19.50 L184.99 19.50 L183.81 19.07 L183.01 18.21M199.62 10.50 L198.44 10.93 L197.64 12.21 L197.25 14.36 L197.25 15.64 L197.64 17.79 L198.44 19.07 L199.62 19.50 L200.41 19.50 L201.60 19.07 L202.39 17.79 L202.78 15.64 L202.78 14.36 L202.39 12.21 L201.60 10.93 L200.41 10.50 L199.62 10.50M205.95 18.64 L205.55 19.07 L205.95 19.50 L206.34 19.07 L205.95 18.64M210.30 12.21 L211.09 11.79 L212.27 10.50 L212.27 19.50M217.41 15.64 L224.53 15.64M229.67 10.50 L228.49 10.93 L227.69 12.21 L227.30 14.36 L227.30 15.64 L227.69 17.79 L228.49 19.07 L229.67 19.50 L230.46 19.50 L231.65 19.07 L232.44 17.79 L232.84 15.64 L232.84 14.36 L232.44 12.21 L231.65 10.93 L230.46 10.50 L229.67 10.50M236.00 18.64 L235.60 19.07 L236.00 19.50 L236.39 19.07 L236.00 18.64M241.14 10.50 L239.95 10.93 L239.56 11.79 L239.56 12.64 L239.95 13.50 L240.74 13.93 L242.32 14.36 L243.51 14.79 L244.30 15.64 L244.70 16.50 L244.70 17.79 L244.30 18.64 L243.91 19.07 L242.72 19.50 L241.14 19.50 L239.95 19.07 L239.56 18.64 L239.16 17.79 L239.16 16.50 L239.56 15.64 L240.35 14.79 L241.53 14.36 L243.12 13.93 L243.91 13.50 L244.30 12.64 L244.30 11.79 L243.91 10.93 L242.72 10.50 L241.14 10.50M247.46 13.50 L247.46 19.50M247.46 15.21 L248.65 13.93 L249.44 13.50 L250.63 13.50 L251.42 13.93 L251.81 15.21 L251.81 19.50M254.98 13.50 L254.98 19.50M254.98 15.21 L256.16 13.93 L256.95 13.50 L258.14 13.50 L258.93 13.93 L259.33 15.21 L259.33 19.50M259.33 15.21 L260.51 13.93 L261.30 13.50 L262.49 13.50 L263.28 13.93 L263.68 15.21 L263.68 19.50M275.93 8.79 L275.14 9.64 L274.35 10.93 L273.56 12.64 L273.17 14.79 L273.17 16.50 L273.56 18.64 L274.35 20.36 L275.14 21.64 L275.93 22.50M278.70 13.50 L278.70 19.50M278.70 16.07 L279.10 14.79 L279.89 13.93 L280.68 13.50 L281.86 13.50M283.45 16.07 L288.19 16.07 L288.19 15.21 L287.80 14.36 L287.40 13.93 L286.61 13.50 L285.42 13.50 L284.63 13.93 L283.84 14.79 L283.45 16.07 L283.45 16.93 L283.84 18.21 L284.63 19.07 L285.42 19.50 L286.61 19.50 L287.40 19.07 L288.19 18.21M295.31 10.50 L295.31 19.50M295.31 14.79 L294.52 13.93 L293.73 13.50 L292.54 13.50 L291.75 13.93 L290.96 14.79 L290.56 16.07 L290.56 16.93 L290.96 18.21 L291.75 19.07 L292.54 19.50 L293.73 19.50 L294.52 19.07 L295.31 18.21M298.08 8.79 L298.87 9.64 L299.66 10.93 L300.45 12.64 L300.84 14.79 L300.84 16.50 L300.45 18.64 L299.66 20.36 L298.87 21.64 L298.08 22.50M304.80 19.07 L304.40 19.50 L304.01 19.07 L304.40 18.64 L304.80 19.07 L304.80 19.93 L304.40 20.79 L304.01 21.21M314.29 10.50 L314.29 19.50M314.29 19.50 L319.03 19.50M319.82 10.50 L322.99 14.79 L322.99 19.50M326.15 10.50 L322.99 14.79M328.13 10.50 L328.13 19.50M328.13 10.50 L331.69 10.50 L332.87 10.93 L333.27 11.36 L333.66 12.21 L333.66 13.07 L333.27 13.93 L332.87 14.36 L331.69 14.79 L328.13 14.79M330.89 14.79 L333.66 19.50M338.41 10.50 L335.24 19.50M338.41 10.50 L341.57 19.50M336.43 16.50 L340.38 16.50M351.85 10.50 L348.69 19.50M351.85 10.50 L355.01 19.50M349.87 16.50 L353.83 16.50M356.99 10.50 L356.99 19.50M369.25 8.79 L368.46 9.64 L367.67 10.93 L366.88 12.64 L366.48 14.79 L366.48 16.50 L366.88 18.64 L367.67 20.36 L368.46 21.64 L369.25 22.50M372.02 10.50 L372.02 19.50M372.02 14.79 L372.81 13.93 L373.60 13.50 L374.78 13.50 L375.57 13.93 L376.37 14.79 L376.76 16.07 L376.76 16.93 L376.37 18.21 L375.57 19.07 L374.78 19.50 L373.60 19.50 L372.81 19.07 L372.02 18.21M379.53 10.50 L379.53 19.50M382.69 13.50 L382.69 17.79 L383.09 19.07 L383.88 19.50 L385.06 19.50 L386.25 19.07 L387.04 17.79M387.04 13.50 L387.04 19.50M389.81 16.07 L394.55 16.07 L394.55 15.21 L394.16 14.36 L393.76 13.93 L392.97 13.50 L391.79 13.50 L391.00 13.93 L390.20 14.79 L389.81 16.07 L389.81 16.93 L390.20 18.21 L391.00 19.07 L391.79 19.50 L392.97 19.50 L393.76 19.07 L394.55 18.21M396.93 8.79 L397.72 9.64 L398.51 10.93 L399.30 12.64 L399.69 14.79 L399.69 16.50 L399.30 18.64 L398.51 20.36 L397.72 21.64 L396.93 22.50M416.70 14.36 L416.70 13.93 L416.30 13.50 L415.91 13.50 L415.51 13.93 L415.11 14.79 L414.32 16.93 L413.53 18.21 L412.74 19.07 L411.95 19.50 L410.37 19.50 L409.58 19.07 L409.18 18.64 L408.79 17.79 L408.79 16.93 L409.18 16.07 L409.58 15.64 L412.35 13.93 L412.74 13.50 L413.14 12.64 L413.14 11.79 L412.74 10.93 L411.95 10.50 L411.16 10.93 L410.77 11.79 L410.77 12.64 L411.16 13.93 L411.95 15.21 L413.93 18.21 L414.72 19.07 L415.51 19.50 L416.30 19.50 L416.70 19.07 L416.70 18.64M430.93 10.50 L425.39 19.50M425.39 10.50 L430.93 10.50M425.39 19.50 L430.93 19.50M433.70 13.50 L433.70 19.50M433.70 16.07 L434.09 14.79 L434.88 13.93 L435.68 13.50 L436.86 13.50M447.93 8.79 L447.14 9.64 L446.35 10.93 L445.56 12.64 L445.16 14.79 L445.16 16.50 L445.56 18.64 L446.35 20.36 L447.14 21.64 L447.93 22.50M455.05 13.50 L455.05 20.36 L454.65 21.64 L454.26 22.07 L453.47 22.50 L452.28 22.50 L451.49 22.07M455.05 14.79 L454.26 13.93 L453.47 13.50 L452.28 13.50 L451.49 13.93 L450.70 14.79 L450.31 16.07 L450.31 16.93 L450.70 18.21 L451.49 19.07 L452.28 19.50 L453.47 19.50 L454.26 19.07 L455.05 18.21M458.21 13.50 L458.21 19.50M458.21 16.07 L458.61 14.79 L459.40 13.93 L460.19 13.50 L461.38 13.50M462.96 16.07 L467.70 16.07 L467.70 15.21 L467.31 14.36 L466.91 13.93 L466.12 13.50 L464.93 13.50 L464.14 13.93 L463.35 14.79 L462.96 16.07 L462.96 16.93 L463.35 18.21 L464.14 19.07 L464.93 19.50 L466.12 19.50 L466.91 19.07 L467.70 18.21M469.68 13.50 L472.05 19.50M474.42 13.50 L472.05 19.50 L471.26 21.21 L470.47 22.07 L469.68 22.50 L469.28 22.50M476.40 8.79 L477.19 9.64 L477.98 10.93 L478.77 12.64 L479.17 14.79 L479.17 16.50 L478.77 18.64 L477.98 20.36 L477.19 21.64 L476.40 22.50M488.66 13.50 L488.66 22.50M488.66 14.79 L489.45 13.93 L490.24 13.50 L491.43 13.50 L492.22 13.93 L493.01 14.79 L493.40 16.07 L493.40 16.93 L493.01 18.21 L492.22 19.07 L491.43 19.50 L490.24 19.50 L489.45 19.07 L488.66 18.21M496.17 13.50 L496.17 19.50M496.17 16.07 L496.57 14.79 L497.36 13.93 L498.15 13.50 L499.33 13.50M502.89 13.50 L502.10 13.93 L501.31 14.79 L500.92 16.07 L500.92 16.93 L501.31 18.21 L502.10 19.07 L502.89 19.50 L504.08 19.50 L504.87 19.07 L505.66 18.21 L506.06 16.93 L506.06 16.07 L505.66 14.79 L504.87 13.93 L504.08 13.50 L502.89 13.50M508.43 13.50 L512.78 19.50M512.78 13.50 L508.43 19.50M514.76 13.50 L517.13 19.50M519.50 13.50 L517.13 19.50 L516.34 21.21 L515.55 22.07 L514.76 22.50 L514.36 22.50" />
<path fill="none" stroke="#000" stroke-width="1" stroke-linecap="square" d="M269.72 462.99 L269.72 469.50M267.50 462.99 L271.94 462.99M273.21 462.99 L273.52 463.30 L273.84 462.99 L273.52 462.68 L273.21 462.99M273.52 465.16 L273.52 469.50M276.06 465.16 L276.06 469.50M276.06 466.40 L277.01 465.47 L277.64 465.16 L278.59 465.16 L279.23 465.47 L279.55 466.40 L279.55 469.50M279.55 466.40 L280.50 465.47 L281.13 465.16 L282.08 465.16 L282.72 465.47 L283.03 466.40 L283.03 469.50M285.25 467.02 L289.06 467.02 L289.06 466.40 L288.74 465.78 L288.42 465.47 L287.79 465.16 L286.84 465.16 L286.20 465.47 L285.57 466.09 L285.25 467.02 L285.25 467.64 L285.57 468.57 L286.20 469.19 L286.84 469.50 L287.79 469.50 L288.42 469.19 L289.06 468.57M301.42 461.75 L295.71 471.67M308.39 462.99 L308.39 469.50M308.39 466.40 L309.34 465.47 L309.98 465.16 L310.93 465.16 L311.56 465.47 L311.88 466.40 L311.88 469.50M319.49 462.99 L319.49 467.64 L319.81 468.57 L320.44 469.19 L321.39 469.50 L322.02 469.50 L322.98 469.19 L323.61 468.57 L323.93 467.64 L323.93 462.99M327.73 462.99 L327.73 469.50M325.51 462.99 L329.95 462.99M335.97 464.54 L335.65 463.92 L335.02 463.30 L334.39 462.99 L333.12 462.99 L332.49 463.30 L331.85 463.92 L331.53 464.54 L331.22 465.47 L331.22 467.02 L331.53 467.95 L331.85 468.57 L332.49 469.19 L333.12 469.50 L334.39 469.50 L335.02 469.19 L335.65 468.57 L335.97 467.95M338.82 469.19 L338.51 469.50 L338.19 469.19 L338.51 468.88 L338.82 469.19 L338.82 469.81 L338.51 470.43 L338.19 470.74M347.07 464.23 L347.70 463.92 L348.65 462.99 L348.65 469.50M354.36 462.99 L353.41 463.30 L352.77 464.23 L352.46 465.78 L352.46 466.71 L352.77 468.26 L353.41 469.19 L354.36 469.50 L354.99 469.50 L355.94 469.19 L356.58 468.26 L356.89 466.71 L356.89 465.78 L356.58 464.23 L355.94 463.30 L354.99 462.99 L354.36 462.99M366.72 462.99 L366.72 467.95 L366.40 468.88 L366.09 469.19 L365.45 469.50 L364.82 469.50 L364.19 469.19 L363.87 468.88 L363.55 467.95 L363.55 467.33M372.74 465.16 L372.74 469.50M372.74 466.09 L372.11 465.47 L371.48 465.16 L370.52 465.16 L369.89 465.47 L369.26 466.09 L368.94 467.02 L368.94 467.64 L369.26 468.57 L369.89 469.19 L370.52 469.50 L371.48 469.50 L372.11 469.19 L372.74 468.57M375.28 465.16 L375.28 469.50M375.28 466.40 L376.23 465.47 L376.87 465.16 L377.82 465.16 L378.45 465.47 L378.77 466.40 L378.77 469.50M386.38 464.54 L386.38 464.23 L386.69 463.61 L387.01 463.30 L387.64 462.99 L388.91 462.99 L389.54 463.30 L389.86 463.61 L390.18 464.23 L390.18 464.85 L389.86 465.47 L389.23 466.40 L386.06 469.50 L390.50 469.50M394.30 462.99 L393.35 463.30 L392.71 464.23 L392.40 465.78 L392.40 466.71 L392.71 468.26 L393.35 469.19 L394.30 469.50 L394.93 469.50 L395.88 469.19 L396.52 468.26 L396.84 466.71 L396.84 465.78 L396.52 464.23 L395.88 463.30 L394.93 462.99 L394.30 462.99M399.06 464.54 L399.06 464.23 L399.37 463.61 L399.69 463.30 L400.32 462.99 L401.59 462.99 L402.23 463.30 L402.54 463.61 L402.86 464.23 L402.86 464.85 L402.54 465.47 L401.91 466.40 L398.74 469.50 L403.18 469.50M408.88 462.99 L405.71 462.99 L405.39 465.78 L405.71 465.47 L406.66 465.16 L407.61 465.16 L408.56 465.47 L409.20 466.09 L409.52 467.02 L409.52 467.64 L409.20 468.57 L408.56 469.19 L407.61 469.50 L406.66 469.50 L405.71 469.19 L405.39 468.88 L405.08 468.26" />
<path fill="none" stroke="#000" stroke-width="1" stroke-linecap="square" d="M489.50 487.50 L489.50 494.50M489.50 487.50 L492.52 487.50 L493.53 487.83 L493.86 488.17 L494.20 488.83 L494.20 489.50 L493.86 490.17 L493.53 490.50 L492.52 490.83 L489.50 490.83M491.85 490.83 L494.20 494.50M498.22 487.50 L497.55 487.83 L496.88 488.50 L496.55 489.17 L496.21 490.17 L496.21 491.83 L496.55 492.83 L496.88 493.50 L497.55 494.17 L498.22 494.50 L499.56 494.50 L500.24 494.17 L500.91 493.50 L501.24 492.83 L501.58 491.83 L501.58 490.17 L501.24 489.17 L500.91 488.50 L500.24 487.83 L499.56 487.50 L498.22 487.50M503.93 487.50 L503.93 494.50M503.93 487.50 L506.95 487.50 L507.95 487.83 L508.29 488.17 L508.62 488.83 L508.62 489.50 L508.29 490.17 L507.95 490.50 L506.95 490.83M503.93 490.83 L506.95 490.83 L507.95 491.17 L508.29 491.50 L508.62 492.17 L508.62 493.17 L508.29 493.83 L507.95 494.17 L506.95 494.50 L503.93 494.50M516.34 486.17 L510.30 496.83M522.71 488.50 L522.04 487.83 L521.04 487.50 L519.70 487.50 L518.69 487.83 L518.02 488.50 L518.02 489.17 L518.35 489.83 L518.69 490.17 L519.36 490.50 L521.37 491.17 L522.04 491.50 L522.38 491.83 L522.71 492.50 L522.71 493.50 L522.04 494.17 L521.04 494.50 L519.70 494.50 L518.69 494.17 L518.02 493.50M525.06 487.50 L525.06 494.50M527.75 487.50 L527.75 494.50M527.75 487.50 L530.10 487.50 L531.10 487.83 L531.77 488.50 L532.11 489.17 L532.44 490.17 L532.44 491.83 L532.11 492.83 L531.77 493.50 L531.10 494.17 L530.10 494.50 L527.75 494.50M539.49 489.17 L539.15 488.50 L538.48 487.83 L537.81 487.50 L536.47 487.50 L535.80 487.83 L535.13 488.50 L534.79 489.17 L534.46 490.17 L534.46 491.83 L534.79 492.83 L535.13 493.50 L535.80 494.17 L536.47 494.50 L537.81 494.50 L538.48 494.17 L539.15 493.50 L539.49 492.83M542.51 494.17 L542.17 494.50 L541.84 494.17 L542.17 493.83 L542.51 494.17 L542.51 494.83 L542.17 495.50 L541.84 495.83M550.56 487.50 L550.56 494.50M550.56 487.50 L553.58 487.50 L554.59 487.83 L554.92 488.17 L555.26 488.83 L555.26 489.50 L554.92 490.17 L554.59 490.50 L553.58 490.83M550.56 490.83 L553.58 490.83 L554.59 491.17 L554.92 491.50 L555.26 492.17 L555.26 493.17 L554.92 493.83 L554.59 494.17 L553.58 494.50 L550.56 494.50M557.61 489.83 L557.61 494.50M557.61 491.83 L557.94 490.83 L558.61 490.17 L559.28 489.83 L560.29 489.83M561.97 489.83 L561.97 493.17 L562.30 494.17 L562.97 494.50 L563.98 494.50 L564.99 494.17 L565.66 493.17M565.66 489.83 L565.66 494.50M571.70 490.83 L571.36 490.17 L570.36 489.83 L569.35 489.83 L568.34 490.17 L568.01 490.83 L568.34 491.50 L569.01 491.83 L570.69 492.17 L571.36 492.50 L571.70 493.17 L571.70 493.50 L571.36 494.17 L570.36 494.50 L569.35 494.50 L568.34 494.17 L568.01 493.50M577.40 490.83 L577.07 490.17 L576.06 489.83 L575.05 489.83 L574.05 490.17 L573.71 490.83 L574.05 491.50 L574.72 491.83 L576.39 492.17 L577.07 492.50 L577.40 493.17 L577.40 493.50 L577.07 494.17 L576.06 494.50 L575.05 494.50 L574.05 494.17 L573.71 493.50M579.41 491.83 L583.44 491.83 L583.44 491.17 L583.10 490.50 L582.77 490.17 L582.10 489.83 L581.09 489.83 L580.42 490.17 L579.75 490.83 L579.41 491.83 L579.41 492.50 L579.75 493.50 L580.42 494.17 L581.09 494.50 L582.10 494.50 L582.77 494.17 L583.44 493.50M585.79 487.50 L585.79 494.50M591.83 490.83 L591.49 490.17 L590.49 489.83 L589.48 489.83 L588.47 490.17 L588.14 490.83 L588.47 491.50 L589.14 491.83 L590.82 492.17 L591.49 492.50 L591.83 493.17 L591.83 493.50 L591.49 494.17 L590.49 494.50 L589.48 494.50 L588.47 494.17 L588.14 493.50M594.85 494.17 L594.51 494.50 L594.18 494.17 L594.51 493.83 L594.85 494.17 L594.85 494.83 L594.51 495.50 L594.18 495.83M602.90 487.50 L602.90 494.50M602.90 487.50 L605.92 487.50 L606.93 487.83 L607.26 488.17 L607.60 488.83 L607.60 489.50 L607.26 490.17 L606.93 490.50 L605.92 490.83M602.90 490.83 L605.92 490.83 L606.93 491.17 L607.26 491.50 L607.60 492.17 L607.60 493.17 L607.26 493.83 L606.93 494.17 L605.92 494.50 L602.90 494.50M609.61 491.83 L613.63 491.83 L613.63 491.17 L613.30 490.50 L612.96 490.17 L612.29 489.83 L611.29 489.83 L610.62 490.17 L609.94 490.83 L609.61 491.83 L609.61 492.50 L609.94 493.50 L610.62 494.17 L611.29 494.50 L612.29 494.50 L612.96 494.17 L613.63 493.50M615.98 487.50 L615.98 494.50M622.36 489.83 L622.36 495.17 L622.02 496.17 L621.69 496.50 L621.02 496.83 L620.01 496.83 L619.34 496.50M622.36 490.83 L621.69 490.17 L621.02 489.83 L620.01 489.83 L619.34 490.17 L618.67 490.83 L618.33 491.83 L618.33 492.50 L618.67 493.50 L619.34 494.17 L620.01 494.50 L621.02 494.50 L621.69 494.17 L622.36 493.50M624.71 487.50 L625.04 487.83 L625.38 487.50 L625.04 487.17 L624.71 487.50M625.04 489.83 L625.04 494.50M627.73 489.83 L627.73 493.17 L628.06 494.17 L628.73 494.50 L629.74 494.50 L630.75 494.17 L631.42 493.17M631.42 489.83 L631.42 494.50M634.10 489.83 L634.10 494.50M634.10 491.17 L635.11 490.17 L635.78 489.83 L636.78 489.83 L637.46 490.17 L637.79 491.17 L637.79 494.50M637.79 491.17 L638.80 490.17 L639.47 489.83 L640.48 489.83 L641.15 490.17 L641.48 491.17 L641.48 494.50" />
<path fill="none" stroke="#000" stroke-width="1" stroke-linecap="square" d="M52.20 451.50 L51.30 451.79 L50.70 452.64 L50.40 454.07 L50.40 454.93 L50.70 456.36 L51.30 457.21 L52.20 457.50 L52.80 457.50 L53.70 457.21 L54.30 456.36 L54.60 454.93 L54.60 454.07 L54.30 452.64 L53.70 451.79 L52.80 451.50 L52.20 451.50" />
<path fill="none" stroke="#000" stroke-width="1" stroke-linecap="square" d="M173.17 451.50 L170.17 451.50 L169.87 454.07 L170.17 453.79 L171.07 453.50 L171.97 453.50 L172.87 453.79 L173.47 454.36 L173.77 455.21 L173.77 455.79 L173.47 456.64 L172.87 457.21 L171.97 457.50 L171.07 457.50 L170.17 457.21 L169.87 456.93 L169.57 456.36" />
<path fill="none" stroke="#000" stroke-width="1" stroke-linecap="square" d="M286.63 452.64 L287.23 452.36 L288.13 451.50 L288.13 457.50M293.53 451.50 L292.63 451.79 L292.03 452.64 L291.73 454.07 L291.73 454.93 L292.03 456.36 L292.63 457.21 L293.53 457.50 L294.13 457.50 L295.03 457.21 L295.63 456.36 L295.93 454.93 L295.93 454.07 L295.63 452.64 L295.03 451.79 L294.13 451.50 L293.53 451.50" />
<path fill="none" stroke="#000" stroke-width="1" stroke-linecap="square" d="M405.80 452.64 L406.40 452.36 L407.30 451.50 L407.30 457.50M414.50 451.50 L411.50 451.50 L411.20 454.07 L411.50 453.79 L412.40 453.50 L413.30 453.50 L414.20 453.79 L414.80 454.36 L415.10 455.21 L415.10 455.79 L414.80 456.64 L414.20 457.21 L413.30 457.50 L412.40 457.50 L411.50 457.21 L411.20 456.93 L410.90 456.36" />
<path fill="none" stroke="#000" stroke-width="1" stroke-linecap="square" d="M524.37 452.93 L524.37 452.64 L524.67 452.07 L524.97 451.79 L525.57 451.50 L526.77 451.50 L527.37 451.79 L527.67 452.07 L527.97 452.64 L527.97 453.21 L527.67 453.79 L527.07 454.64 L524.07 457.50 L528.27 457.50M531.87 451.50 L530.97 451.79 L530.37 452.64 L530.07 454.07 L530.07 454.93 L530.37 456.36 L530.97 457.21 L531.87 457.50 L532.47 457.50 L533.37 457.21 L533.97 456.36 L534.27 454.93 L534.27 454.07 L533.97 452.64 L533.37 451.79 L532.47 451.50 L531.87 451.50" />
<path fill="none" stroke="#000" stroke-width="1" stroke-linecap="square" d="M632.18 72.50 L636.66 79.50M636.66 72.50 L632.18 79.50" />
<path fill="none" stroke="#000" stroke-width="1" stroke-linecap="square" d="M632.50 177.50 L632.50 184.50M632.50 177.50 L635.06 184.50M637.62 177.50 L635.06 184.50M637.62 177.50 L637.62 184.50" />
<path fill="none" stroke="#000" stroke-width="1" stroke-linecap="square" d="M636.98 284.17 L636.66 283.50 L636.02 282.83 L635.38 282.50 L634.10 282.50 L633.46 282.83 L632.82 283.50 L632.50 284.17 L632.18 285.17 L632.18 286.83 L632.50 287.83 L632.82 288.50 L633.46 289.17 L634.10 289.50 L635.38 289.50 L636.02 289.17 L636.66 288.50 L636.98 287.83" />
<path fill="none" stroke="#000" stroke-width="1" stroke-linecap="square" d="M632.50 387.50 L632.50 394.50M632.50 387.50 L635.38 387.50 L636.34 387.83 L636.66 388.17 L636.98 388.83 L636.98 389.50 L636.66 390.17 L636.34 390.50 L635.38 390.83M632.50 390.83 L635.38 390.83 L636.34 391.17 L636.66 391.50 L636.98 392.17 L636.98 393.17 L636.66 393.83 L636.34 394.17 L635.38 394.50 L632.50 394.50" />
<g transform="translate(26.5,289.5) rotate(-90)"><path fill="none" stroke="#000" stroke-width="1" stroke-linecap="square" d="M3.82 -4.57 L3.57 -5.14 L3.06 -5.71 L2.55 -6.00 L1.53 -6.00 L1.02 -5.71 L0.51 -5.14 L0.26 -4.57 L0.00 -3.71 L0.00 -2.29 L0.26 -1.43 L0.51 -0.86 L1.02 -0.29 L1.53 0.00 L2.55 0.00 L3.06 -0.29 L3.57 -0.86 L3.82 -1.43 L3.82 -2.29M2.55 -2.29 L3.82 -2.29M6.89 -6.00 L6.38 -5.71 L5.87 -5.14 L5.61 -4.57 L5.36 -3.71 L5.36 -2.29 L5.61 -1.43 L5.87 -0.86 L6.38 -0.29 L6.89 0.00 L7.91 0.00 L8.41 -0.29 L8.92 -0.86 L9.18 -1.43 L9.43 -2.29 L9.43 -3.71 L9.18 -4.57 L8.92 -5.14 L8.41 -5.71 L7.91 -6.00 L6.89 -6.00M11.22 -6.00 L11.22 0.00M11.22 -6.00 L14.54 -6.00M11.22 -3.14 L13.26 -3.14M11.22 0.00 L14.54 0.00M19.38 -5.14 L18.87 -5.71 L18.11 -6.00 L17.09 -6.00 L16.32 -5.71 L15.81 -5.14 L15.81 -4.57 L16.07 -4.00 L16.32 -3.71 L16.83 -3.43 L18.36 -2.86 L18.87 -2.57 L19.12 -2.29 L19.38 -1.71 L19.38 -0.86 L18.87 -0.29 L18.11 0.00 L17.09 0.00 L16.32 -0.29 L15.81 -0.86M25.25 -6.00 L25.25 0.00M27.29 -4.00 L27.29 0.00M27.29 -2.29 L27.54 -3.14 L28.05 -3.71 L28.56 -4.00 L29.32 -4.00M30.60 -4.00 L30.60 0.00M30.60 -2.29 L30.86 -3.14 L31.37 -3.71 L31.88 -4.00 L32.64 -4.00M36.72 -4.00 L36.72 0.00M36.72 -3.14 L36.21 -3.71 L35.70 -4.00 L34.94 -4.00 L34.42 -3.71 L33.91 -3.14 L33.66 -2.29 L33.66 -1.71 L33.91 -0.86 L34.42 -0.29 L34.94 0.00 L35.70 0.00 L36.21 -0.29 L36.72 -0.86M41.56 -6.00 L41.56 0.00M41.56 -3.14 L41.05 -3.71 L40.55 -4.00 L39.78 -4.00 L39.27 -3.71 L38.76 -3.14 L38.51 -2.29 L38.51 -1.71 L38.76 -0.86 L39.27 -0.29 L39.78 0.00 L40.55 0.00 L41.05 -0.29 L41.56 -0.86M43.35 -6.00 L43.60 -5.71 L43.86 -6.00 L43.60 -6.29 L43.35 -6.00M43.60 -4.00 L43.60 0.00M48.45 -4.00 L48.45 0.00M48.45 -3.14 L47.94 -3.71 L47.43 -4.00 L46.66 -4.00 L46.16 -3.71 L45.65 -3.14 L45.39 -2.29 L45.39 -1.71 L45.65 -0.86 L46.16 -0.29 L46.66 0.00 L47.43 0.00 L47.94 -0.29 L48.45 -0.86M50.49 -4.00 L50.49 0.00M50.49 -2.86 L51.26 -3.71 L51.77 -4.00 L52.53 -4.00 L53.04 -3.71 L53.30 -2.86 L53.30 0.00M58.14 -3.14 L57.63 -3.71 L57.12 -4.00 L56.36 -4.00 L55.84 -3.71 L55.34 -3.14 L55.08 -2.29 L55.08 -1.71 L55.34 -0.86 L55.84 -0.29 L56.36 0.00 L57.12 0.00 L57.63 -0.29 L58.14 -0.86M59.67 -2.29 L62.73 -2.29 L62.73 -2.86 L62.48 -3.43 L62.22 -3.71 L61.71 -4.00 L60.95 -4.00 L60.44 -3.71 L59.92 -3.14 L59.67 -2.29 L59.67 -1.71 L59.92 -0.86 L60.44 -0.29 L60.95 0.00 L61.71 0.00 L62.22 -0.29 L62.73 -0.86M72.67 -7.14 L68.08 2.00M80.07 -7.14 L79.56 -6.57 L79.05 -5.71 L78.54 -4.57 L78.28 -3.14 L78.28 -2.00 L78.54 -0.57 L79.05 0.57 L79.56 1.43 L80.07 2.00M81.34 -6.00 L82.62 0.00M83.89 -6.00 L82.62 0.00M83.89 -6.00 L85.17 0.00M86.45 -6.00 L85.17 0.00M92.06 -4.00 L92.06 0.00M92.06 -2.86 L92.82 -3.71 L93.33 -4.00 L94.09 -4.00 L94.61 -3.71 L94.86 -2.86 L94.86 0.00M94.86 -2.86 L95.62 -3.71 L96.14 -4.00 L96.90 -4.00 L97.41 -3.71 L97.67 -2.86 L97.67 0.00M100.09 -5.44 L102.97 -5.44M104.25 -6.56 L104.25 -6.72 L104.41 -7.04 L104.57 -7.20 L104.89 -7.36 L105.53 -7.36 L105.85 -7.20 L106.01 -7.04 L106.17 -6.72 L106.17 -6.40 L106.01 -6.08 L105.69 -5.60 L104.09 -4.00 L106.33 -4.00M107.58 -7.14 L108.09 -6.57 L108.59 -5.71 L109.11 -4.57 L109.36 -3.14 L109.36 -2.00 L109.11 -0.57 L108.59 0.57 L108.09 1.43 L107.58 2.00"/></g>
<path fill="#000" d="M34 24h1v1h-1zM35 24h1v1h-1zM34 25h1v1h-1zM35 25h1v1h-1zM35 26h1v1h-1zM35 27h1v1h-1zM35 28h1v1h-1zM35 29h1v1h-1zM39 24h1v1h-1zM40 24h1v1h-1zM41 24h1v1h-1zM38 25h1v1h-1zM41 25h1v1h-1zM38 26h1v1h-1zM41 26h1v1h-1zM38 27h1v1h-1zM41 27h1v1h-1zM38 28h1v1h-1zM41 28h1v1h-1zM39 29h1v1h-1zM40 29h1v1h-1zM41 29h1v1h-1zM43 24h1v1h-1zM44 24h1v1h-1zM45 24h1v1h-1zM46 24h1v1h-1zM47 22h1v1h-1zM48 22h1v1h-1zM49 22h1v1h-1zM48 23h1v1h-1zM49 23h1v1h-1zM49 24h1v1h-1zM47 25h1v1h-1zM48 25h1v1h-1zM49 25h1v1h-1zM34 127h1v1h-1zM35 127h1v1h-1zM34 128h1v1h-1zM35 128h1v1h-1zM35 129h1v1h-1zM35 130h1v1h-1zM35 131h1v1h-1zM35 132h1v1h-1zM39 127h1v1h-1zM40 127h1v1h-1zM41 127h1v1h-1zM38 128h1v1h-1zM41 128h1v1h-1zM38 129h1v1h-1zM41 129h1v1h-1zM38 130h1v1h-1zM41 130h1v1h-1zM38 131h1v1h-1zM41 131h1v1h-1zM39 132h1v1h-1zM40 132h1v1h-1zM41 132h1v1h-1zM43 127h1v1h-1zM44 127h1v1h-1zM45 127h1v1h-1zM46 127h1v1h-1zM48 125h1v1h-1zM47 126h1v1h-1zM48 126h1v1h-1zM47 127h1v1h-1zM48 127h1v1h-1zM49 127h1v1h-1zM48 128h1v1h-1zM34 232h1v1h-1zM35 232h1v1h-1zM34 233h1v1h-1zM35 233h1v1h-1zM35 234h1v1h-1zM35 235h1v1h-1zM35 236h1v1h-1zM35 237h1v1h-1zM39 232h1v1h-1zM40 232h1v1h-1zM41 232h1v1h-1zM38 233h1v1h-1zM41 233h1v1h-1zM38 234h1v1h-1zM41 234h1v1h-1zM38 235h1v1h-1zM41 235h1v1h-1zM38 236h1v1h-1zM41 236h1v1h-1zM39 237h1v1h-1zM40 237h1v1h-1zM41 237h1v1h-1zM43 232h1v1h-1zM44 232h1v1h-1zM45 232h1v1h-1zM46 232h1v1h-1zM47 230h1v1h-1zM48 230h1v1h-1zM49 230h1v1h-1zM47 231h1v1h-1zM48 231h1v1h-1zM49 231h1v1h-1zM47 232h1v1h-1zM49 232h1v1h-1zM47 233h1v1h-1zM48 233h1v1h-1zM49 233h1v1h-1zM34 337h1v1h-1zM35 337h1v1h-1zM34 338h1v1h-1zM35 338h1v1h-1zM35 339h1v1h-1zM35 340h1v1h-1zM35 341h1v1h-1zM35 342h1v1h-1zM39 337h1v1h-1zM40 337h1v1h-1zM41 337h1v1h-1zM38 338h1v1h-1zM41 338h1v1h-1zM38 339h1v1h-1zM41 339h1v1h-1zM38 340h1v1h-1zM41 340h1v1h-1zM38 341h1v1h-1zM41 341h1v1h-1zM39 342h1v1h-1zM40 342h1v1h-1zM41 342h1v1h-1zM43 337h1v1h-1zM44 337h1v1h-1zM45 337h1v1h-1zM46 337h1v1h-1zM47 335h1v1h-1zM48 335h1v1h-1zM49 335h1v1h-1zM47 336h1v1h-1zM48 336h1v1h-1zM49 336h1v1h-1zM47 337h1v1h-1zM49 337h1v1h-1zM47 338h1v1h-1zM48 338h1v1h-1zM49 338h1v1h-1zM34 439h1v1h-1zM35 439h1v1h-1zM34 440h1v1h-1zM35 440h1v1h-1zM35 441h1v1h-1zM35 442h1v1h-1zM35 443h1v1h-1zM35 444h1v1h-1zM39 439h1v1h-1zM40 439h1v1h-1zM41 439h1v1h-1zM38 440h1v1h-1zM41 440h1v1h-1zM38 441h1v1h-1zM41 441h1v1h-1zM38 442h1v1h-1zM41 442h1v1h-1zM38 443h1v1h-1zM41 443h1v1h-1zM39 444h1v1h-1zM40 444h1v1h-1zM41 444h1v1h-1zM43 439h1v1h-1zM44 439h1v1h-1zM45 439h1v1h-1zM46 439h1v1h-1zM47 437h1v1h-1zM48 437h1v1h-1zM49 437h1v1h-1zM48 438h1v1h-1zM48 439h1v1h-1zM47 440h1v1h-1z"/>
</svg></body></html>
